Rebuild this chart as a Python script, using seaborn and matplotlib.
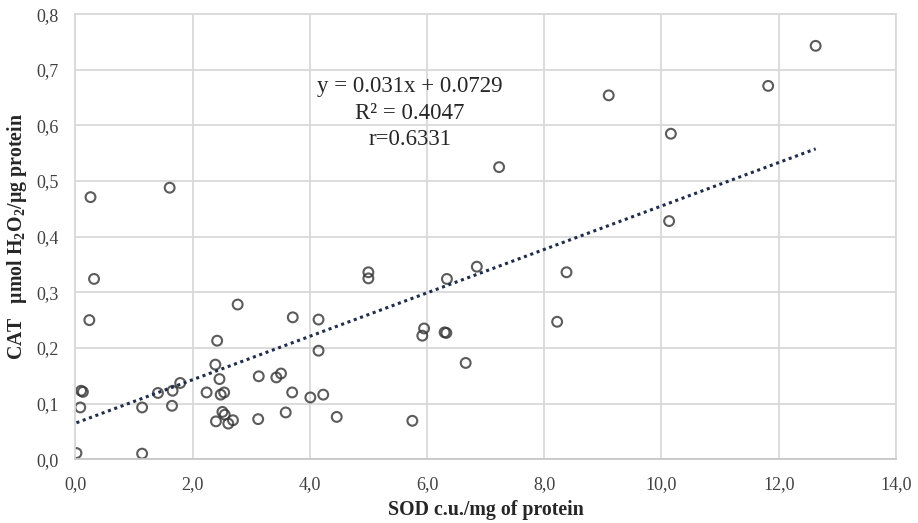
import numpy as np
import pandas as pd
import seaborn as sns
import matplotlib.pyplot as plt
from matplotlib.ticker import FuncFormatter

sod = [0.02, 0.085, 0.10, 0.13, 0.24, 0.26, 0.32, 1.14, 1.14, 1.41,
       1.61, 1.65, 1.66, 1.79, 2.24, 2.39, 2.40, 2.42, 2.46, 2.48,
       2.54, 2.51, 2.55, 2.61, 2.69, 2.77, 3.12, 3.13, 3.43, 3.51,
       3.59, 3.70, 3.71, 4.01, 4.15, 4.15, 4.23, 4.46, 5.00, 5.00,
       5.75, 5.92, 5.95, 6.30, 6.33, 6.34, 6.66, 6.85, 7.23, 8.22,
       8.38, 9.10, 10.13, 10.16, 11.82, 12.63]
cat = [0.011, 0.093, 0.123, 0.121, 0.250, 0.471, 0.324, 0.010, 0.093, 0.119,
       0.488, 0.096, 0.123, 0.137, 0.120, 0.170, 0.068, 0.213, 0.144, 0.116,
       0.120, 0.085, 0.080, 0.064, 0.070, 0.278, 0.072, 0.149, 0.147, 0.154,
       0.084, 0.120, 0.255, 0.111, 0.251, 0.195, 0.116, 0.076, 0.336, 0.325,
       0.069, 0.222, 0.235, 0.228, 0.227, 0.324, 0.173, 0.346, 0.525, 0.247,
       0.336, 0.654, 0.428, 0.585, 0.671, 0.743]
eq_lines = ["y = 0.031x + 0.0729", "R\u00b2 = 0.4047", "r=0.6331"]

df = pd.DataFrame({"SOD": sod, "CAT": cat})

sns.set_theme(style="whitegrid")
plt.rcParams["font.family"] = ["Liberation Serif", "DejaVu Serif"]
plt.rcParams["mathtext.fontset"] = "custom"
plt.rcParams["mathtext.rm"] = "Liberation Serif:bold"
plt.rcParams["mathtext.it"] = "Liberation Serif:bold"
plt.rcParams["mathtext.bf"] = "Liberation Serif:bold"

fig, ax = plt.subplots(figsize=(9.18, 5.23), dpi=100)
fig.subplots_adjust(left=0.082, right=0.976, top=0.973, bottom=0.122)

sns.regplot(data=df, x="SOD", y="CAT", ci=None, ax=ax,
            scatter_kws=dict(s=50, facecolors="none", edgecolors="#333333", linewidths=1.5),
            line_kws=dict(color="#1f2d4a", linestyle=(0, (1, 1.2)), linewidth=2.2))

ax.set_xlim(0, 14)
ax.set_ylim(0, 0.8)
ax.set_xticks(np.arange(0, 14.1, 2))
ax.set_yticks(np.arange(0, 0.81, 0.1))
ax.xaxis.set_major_formatter(FuncFormatter(lambda v, p: f"{v:.1f}".replace(".", ",")))
ax.yaxis.set_major_formatter(FuncFormatter(lambda v, p: f"{v:.1f}".replace(".", ",")))
ax.tick_params(labelsize=13, colors="#404040", pad=6)
ax.grid(color="#d9d9d9", linewidth=1.3)
for s in ax.spines.values():
    s.set_color("#d9d9d9")
    s.set_linewidth(1.3)
ax.spines["bottom"].set_color("#c8c8c8")

ax.set_xlabel("SOD c.u./mg of protein", fontsize=14.3, fontweight="bold", color="#262626", labelpad=5)
ax.set_ylabel("CAT   \u00b5mol H$_{2}$O$_{2}$/\u00b5g protein", fontsize=14.3, fontweight="bold",
              color="#262626", labelpad=5)

ax.text(5.71, 0.688, "\n".join(eq_lines), ha="center", va="top", fontsize=16.5,
        color="#262626", linespacing=1.32)

plt.savefig("out.png", dpi=100)
